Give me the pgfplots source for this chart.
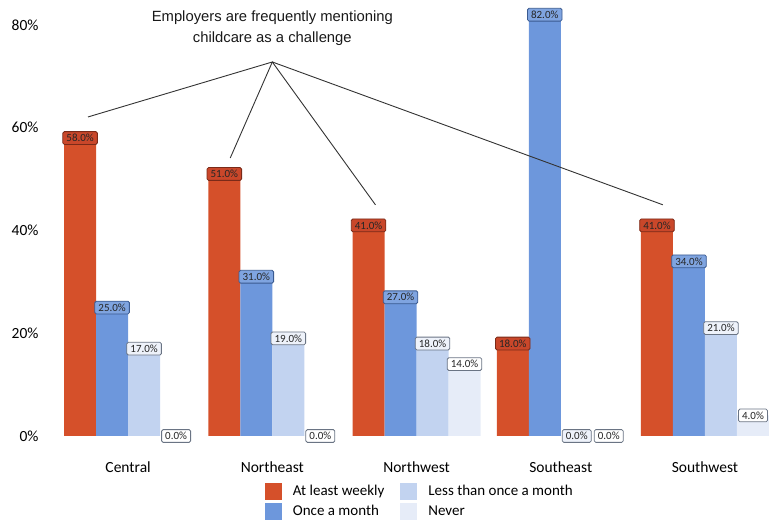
\documentclass[border=0pt]{standalone}
\usepackage{pgfplots}
\pgfplotsset{compat=1.18}
\usepackage{fontspec}
\setmainfont{Carlito}
\newfontfamily\arialfont{Liberation Sans}
\definecolor{cRed}{HTML}{D5502A}
\definecolor{cBlue}{HTML}{6D97DC}
\definecolor{cLight}{HTML}{C2D3F0}
\definecolor{cNever}{HTML}{E6ECF8}
\definecolor{cRedL}{HTML}{C9472A}
\definecolor{cRedB}{HTML}{7A2A18}
\definecolor{cBlueL}{HTML}{7FA4E0}
\definecolor{cBlueB}{HTML}{3A5A90}
\definecolor{cLightL}{HTML}{EEF2FA}
\definecolor{cGrayB}{HTML}{6A7484}
\begin{document}
\begin{tikzpicture}[x=1pt,y=1pt]
\useasboundingbox (0,0) rectangle (771,522);
\begin{axis}[
  at={(56pt,86pt)}, anchor=south west,
  scale only axis, width=712pt, height=436.7pt,
  xmin=-0.5, xmax=4.437, ymin=0, ymax=85,
  clip=false,
  ybar=0pt, bar width=32pt,
  axis line style={draw=none},
  major tick length=0pt,
  xtick={0,1,2,3,4},
  xticklabels={Central,Northeast,Northwest,Southeast,Southwest},
  xticklabel style={font=\fontsize{15.5}{17}\selectfont, yshift=-22pt},
  ytick={0,20,40,60,80},
  yticklabel={\pgfmathprintnumber{\tick}\%},
  yticklabel style={font=\fontsize{15.5}{17}\selectfont, xshift=-14pt},
  /pgf/number format/assume math mode=true,
  nodes near coords={\pgfmathprintnumber[fixed,fixed zerofill,precision=1]{\pgfplotspointmeta}\%},
  every node near coord/.append style={anchor=center, font=\fontsize{11}{12}\selectfont, inner xsep=3.6pt, inner ysep=2.6pt, rounded corners=1.5pt, line width=0.8pt, text=black!85},
  legend style={at={(0.511,-0.102)}, anchor=north, draw=none, font=\fontsize{15}{17}\selectfont, row sep=3pt,
     /tikz/every odd column/.append style={column sep=9pt},
     /tikz/every even column/.append style={column sep=14pt}},
  legend columns=2, transpose legend,
  legend cell align=left,
  legend image code/.code={\fill[#1] (0pt,-8.5pt) rectangle (17pt,8.5pt);},
]
\addplot[fill=cRed, draw=none, every node near coord/.append style={fill=cRedL, draw=cRedB}] coordinates {(0,58) (1,51) (2,41) (3,18) (4,41)};
\addplot[fill=cBlue, draw=none, every node near coord/.append style={fill=cBlueL, draw=cBlueB}] coordinates {(0,25) (1,31) (2,27) (3,82) (4,34)};
\addplot[fill=cLight, draw=none, every node near coord/.append style={fill=cLightL, draw=cGrayB}] coordinates {(0,17) (1,19) (2,18) (3,0) (4,21)};
\addplot[fill=cNever, draw=none, every node near coord/.append style={fill=white, draw=cGrayB}] coordinates {(0,0) (1,0) (2,14) (3,0) (4,4)};
\legend{At least weekly, Once a month, Less than once a month, Never}
\draw[black!80, line width=0.9pt] (axis cs:-0.278,62.1) -- (axis cs:1.0,72.8) -- (axis cs:0.708,54.1);
\draw[black!80, line width=0.9pt] (axis cs:1.0,72.8) -- (axis cs:1.715,45.0);
\draw[black!80, line width=0.9pt] (axis cs:1.0,72.8) -- (axis cs:3.708,45.0);
\node[font=\arialfont\fontsize{14.8}{21}\selectfont, align=center, text=black!90] at (axis cs:1.0,79.3) {Employers are frequently mentioning\\childcare as a challenge};
\end{axis}
\end{tikzpicture}
\end{document}
